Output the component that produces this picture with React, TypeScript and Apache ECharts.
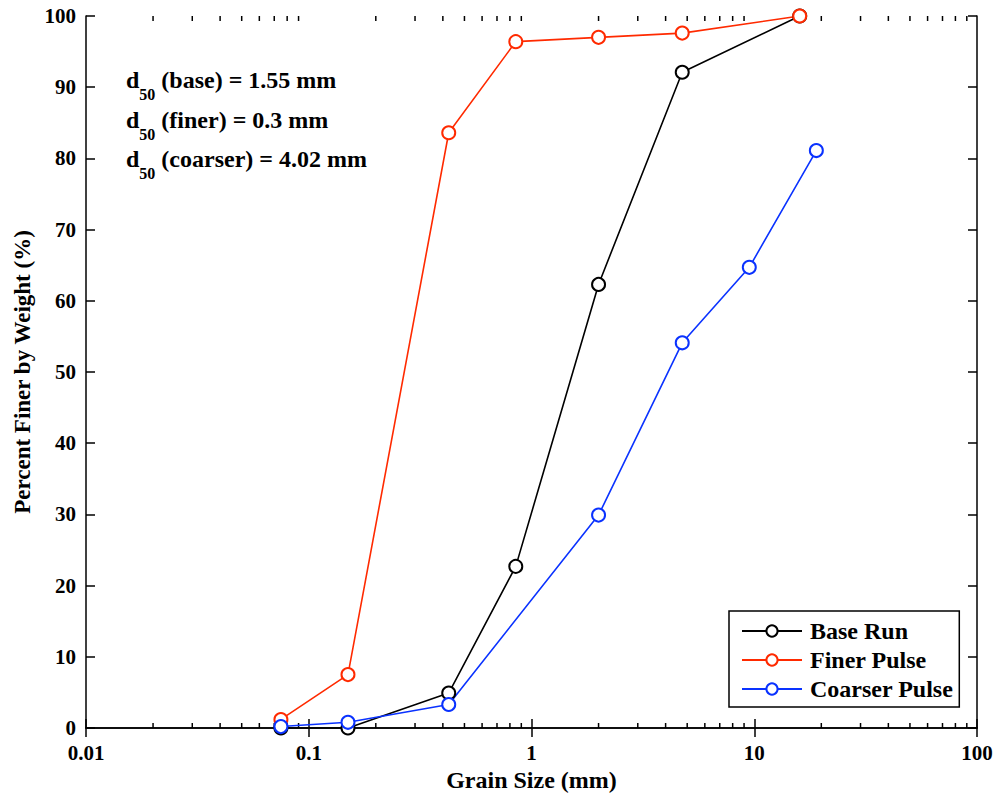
import React, { useEffect, useRef } from "react";
import * as echarts from "echarts";

const baseX = [0.075, 0.15, 0.425, 0.85, 2.0, 4.75, 16];
const baseY = [0, 0, 4.9, 22.7, 62.3, 92.1, 100];
const finerX = [0.075, 0.15, 0.425, 0.85, 2.0, 4.75, 16];
const finerY = [1.2, 7.5, 83.6, 96.4, 97.0, 97.6, 100];
const coarserX = [0.075, 0.15, 0.425, 2.0, 4.75, 9.5, 19];
const coarserY = [0.2, 0.8, 3.3, 29.9, 54.1, 64.7, 81.1];
const minorTickValues = [
  0.02, 0.03, 0.04, 0.05, 0.06, 0.07, 0.08, 0.09,
  0.2, 0.3, 0.4, 0.5, 0.6, 0.7, 0.8, 0.9,
  2, 3, 4, 5, 6, 7, 8, 9,
  20, 30, 40, 50, 60, 70, 80, 90,
];
const annotations = ["(base) = 1.55 mm", "(finer) = 0.3 mm", "(coarser) = 4.02 mm"];

const FONT = "Liberation Serif";
const zip = (xs: number[], ys: number[]) => xs.map((x, i) => [x, ys[i]]);

export default function App() {
  const ref = useRef<HTMLDivElement>(null);
  useEffect(() => {
    const chart = echarts.init(ref.current!, null, { renderer: "svg" });
    const tick = { fontFamily: FONT, fontWeight: "bold" as const, color: "#000", fontSize: 21 };
    const big = { fontFamily: FONT, fontWeight: "bold" as const, color: "#000", fontSize: 24 };
    const lineSeries = (name: string, data: number[][], color: string) => ({
      name,
      type: "line",
      data,
      symbol: "emptyCircle",
      symbolSize: 13,
      showAllSymbol: true,
      itemStyle: { color, borderWidth: 1.5 },
      lineStyle: { color, width: 1.6 },
      xAxisIndex: 0,
      yAxisIndex: 0,
    });
    const axisLine = { show: true, lineStyle: { color: "#000", width: 1.5 } };
    const axisTick = { show: true, inside: true, length: 9, lineStyle: { color: "#000", width: 1.5 } };
    chart.setOption({
      animation: false,
      backgroundColor: "#fff",
      grid: { left: 86, right: 25, top: 16, bottom: 71 },
      xAxis: [
        {
          type: "log",
          logBase: 10,
          min: 0.01,
          max: 100,
          position: "bottom",
          name: "Grain Size (mm)",
          nameLocation: "middle",
          nameGap: 38,
          nameTextStyle: { ...big },
          axisLine,
          axisTick,
          axisLabel: { ...tick, margin: 14, showMinLabel: true, showMaxLabel: true },
          splitLine: { show: false },
        },
        {
          type: "log",
          logBase: 10,
          min: 0.01,
          max: 100,
          position: "top",
          axisLine,
          axisTick,
          axisLabel: { show: false },
          splitLine: { show: false },
        },
      ],
      yAxis: [
        {
          type: "value",
          min: 0,
          max: 100,
          interval: 10,
          position: "left",
          name: "Percent Finer by Weight (%)",
          nameLocation: "middle",
          nameGap: 52,
          nameTextStyle: { ...big, fontSize: 23 },
          axisLine,
          axisTick,
          axisLabel: { ...tick, margin: 10 },
          splitLine: { show: false },
        },
        {
          type: "value",
          min: 0,
          max: 100,
          interval: 10,
          position: "right",
          axisLine,
          axisTick,
          axisLabel: { show: false },
          splitLine: { show: false },
        },
      ],
      legend: {
        data: ["Base Run", "Finer Pulse", "Coarser Pulse"],
        orient: "vertical",
        left: 729,
        top: 611,
        padding: [8, 6, 6, 12],
        itemWidth: 60,
        itemHeight: 14,
        itemGap: 5,
        borderColor: "#000",
        borderWidth: 1.5,
        backgroundColor: "#fff",
        textStyle: { ...big, padding: [0, 0, 0, 3] },
      },
      graphic: annotations.map((a, i) => ({
        type: "text",
        left: 126,
        top: 68 + i * 39.5,
        z: 100,
        style: {
          text: `{d|d}{s|50}{t| ${a}}`,
          rich: {
            d: { ...big, fill: "#000" },
            s: { ...big, fill: "#000", fontSize: 16, padding: [29, 0, 0, 0] },
            t: { ...big, fill: "#000" },
          },
        },
      })),
      series: [
        lineSeries("Base Run", zip(baseX, baseY), "#000000"),
        lineSeries("Finer Pulse", zip(finerX, finerY), "#ff2a00"),
        lineSeries("Coarser Pulse", zip(coarserX, coarserY), "#0a32ff"),
        {
          type: "custom",
          xAxisIndex: 0,
          yAxisIndex: 0,
          silent: true,
          data: minorTickValues.map((v) => [v, 0]),
          renderItem: (params: any, api: any) => {
            const v = api.value(0);
            const b = api.coord([v, 0]);
            const t = api.coord([v, 100]);
            const style = { stroke: "#000", lineWidth: 1.5 };
            return {
              type: "group",
              children: [
                { type: "line", shape: { x1: b[0], y1: b[1], x2: b[0], y2: b[1] - 5 }, style },
                { type: "line", shape: { x1: t[0], y1: t[1], x2: t[0], y2: t[1] + 5 }, style },
              ],
            };
          },
        },
      ],
    });
    return () => chart.dispose();
  }, []);
  return <div ref={ref} style={{ width: 1002, height: 799, position: "absolute", left: 0, top: 0 }} />;
}
